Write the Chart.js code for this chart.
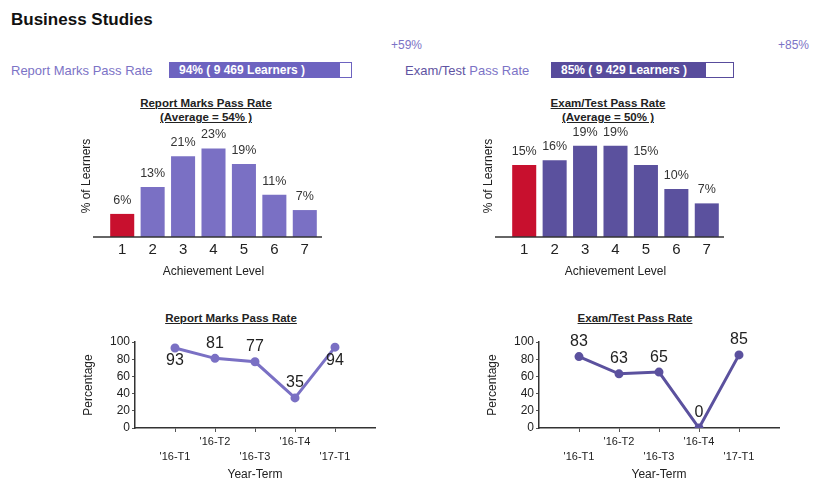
<!DOCTYPE html>
<html>
<head>
<meta charset="utf-8">
<script src="https://cdn.jsdelivr.net/npm/chart.js@4.4.1/dist/chart.umd.min.js"></script>
<style>
  body { margin: 0; background: #fff; font-family: Arial, "Liberation Sans", sans-serif; }
  #page { position: relative; width: 822px; height: 482px; overflow: hidden; }
  .t { position: absolute; white-space: nowrap; line-height: 1; }
  .ctitle { position: absolute; font-weight: bold; font-size: 11.5px; color: #222; text-decoration: underline; text-align: center; line-height: 14px; transform: translateX(-50%); white-space: nowrap; }
  .pbar { position: absolute; height: 14px; background: #fff; }
  .pbar .fill { position: absolute; left: 0; top: 0; bottom: 0; }
  .pbar span { position: absolute; left: 9px; top: 1px; color: #fff; font-weight: bold; font-size: 12px; line-height: 13px; white-space: nowrap; }
  canvas { position: absolute; }
</style>
</head>
<body>
<div id="page">
  <div class="t" style="left:11px;top:11px;font-size:17px;font-weight:bold;color:#111;">Business Studies</div>
  <div class="t" style="left:391px;top:39px;font-size:12px;color:#7c73c6;">+59%</div>
  <div class="t" style="left:778px;top:39px;font-size:12px;color:#7c73c6;">+85%</div>

  <div class="t" style="left:11px;top:63.5px;font-size:13px;color:#7c73c6;">Report Marks Pass Rate</div>
  <div class="pbar" id="pb1" style="left:169px;top:62px;width:181px;border:1px solid #6d63c0;"><div class="fill" style="background:#6d63c0;"></div><span></span></div>

  <div class="t" style="left:405px;top:63.5px;font-size:13px;"><span style="color:#5f54a2;">Exam/Test</span> <span style="color:#7c73c6;">Pass Rate</span></div>
  <div class="pbar" id="pb2" style="left:551px;top:62px;width:181px;border:1px solid #584c9c;"><div class="fill" style="background:#584c9c;"></div><span></span></div>

  <div class="ctitle" style="left:206px;top:96px;">Report Marks Pass Rate<br>(Average = 54% )</div>
  <div class="ctitle" style="left:608px;top:96px;">Exam/Test Pass Rate<br>(Average = 50% )</div>
  <div class="ctitle" style="left:231px;top:311px;">Report Marks Pass Rate</div>
  <div class="ctitle" style="left:635px;top:311px;">Exam/Test Pass Rate</div>

  <canvas id="bar1" width="260" height="170" style="left:70px;top:115px;"></canvas>
  <canvas id="bar2" width="260" height="170" style="left:472px;top:115px;"></canvas>
  <canvas id="line1" width="310" height="155" style="left:75px;top:330px;"></canvas>
  <canvas id="line2" width="310" height="155" style="left:479px;top:330px;"></canvas>
</div>

<script>
// header figures
const reportRate = 94;
const reportLearners = "9 469";
const examRate = 85;
const examLearners = "9 429";

// achievement level distributions (% of learners)
const levels = ["1", "2", "3", "4", "5", "6", "7"];
const reportLevels = [6, 13, 21, 23, 19, 11, 7];
const examLevels = [15, 16, 19, 19, 15, 10, 7];

// pass rate per year-term
const terms = ["'16-T1", "'16-T2", "'16-T3", "'16-T4", "'17-T1"];
const reportPass = [93, 81, 77, 35, 94];
const examPass = [83, 63, 65, 0, 85];

const LIGHT = "#7a70c4";
const DARK = "#5b519e";
const RED = "#c8102e";

Chart.defaults.font.family = 'Arial, "Liberation Sans", sans-serif';
Chart.defaults.color = "#222";

function fillBar(id, rate, learners) {
    const el = document.getElementById(id);
    el.querySelector(".fill").style.width = rate + "%";
    el.querySelector("span").textContent = rate + "% ( " + learners + " Learners )";
}
fillBar("pb1", reportRate, reportLearners);
fillBar("pb2", examRate, examLearners);

const barLabels = {
    id: "barLabels",
    afterDatasetsDraw(chart) {
        const ctx = chart.ctx;
        const ds = chart.data.datasets[0];
        ctx.save();
        ctx.font = "12.5px Arial, 'Liberation Sans', sans-serif";
        ctx.fillStyle = "#333";
        ctx.textAlign = "center";
        ctx.textBaseline = "middle";
        chart.getDatasetMeta(0).data.forEach((bar, i) => {
            ctx.fillText(ds.data[i] + "%", bar.x, bar.y - 13.5);
        });
        ctx.restore();
    },
};

const baseLine = {
    id: "baseLine",
    afterDatasetsDraw(chart) {
        const { ctx, chartArea } = chart;
        ctx.save();
        ctx.strokeStyle = "#333";
        ctx.lineWidth = 1.5;
        ctx.beginPath();
        ctx.moveTo(chartArea.left - 14, chartArea.bottom);
        ctx.lineTo(chartArea.right + 2, chartArea.bottom);
        ctx.stroke();
        ctx.restore();
    },
};

const pointLabels = {
    id: "pointLabels",
    afterDatasetsDraw(chart, args, opts) {
        const ctx = chart.ctx;
        const ds = chart.data.datasets[0];
        ctx.save();
        ctx.font = "16px Arial, 'Liberation Sans', sans-serif";
        ctx.fillStyle = "#222";
        ctx.textAlign = "center";
        ctx.textBaseline = "middle";
        chart.getDatasetMeta(0).data.forEach((pt, i) => {
            const below = opts.below && opts.below[i];
            ctx.fillText(ds.data[i].y, pt.x, below ? pt.y + 13 : pt.y - 15);
        });
        ctx.restore();
    },
};

function makeBar(id, values, color, max) {
    return new Chart(document.getElementById(id), {
        type: "bar",
        data: {
            labels: levels,
            datasets: [{
                data: values,
                backgroundColor: values.map((v, i) => (i === 0 ? RED : color)),
                categoryPercentage: 1,
                barPercentage: 0.79,
            }],
        },
        options: {
            responsive: false,
            animation: false,
            layout: { padding: { right: 10 } },
            plugins: { legend: { display: false }, tooltip: { enabled: false } },
            scales: {
                x: {
                    grid: { display: false, drawTicks: false },
                    border: { display: false },
                    ticks: { font: { size: 15 }, color: "#222", padding: 4 },
                    title: { display: true, text: "Achievement Level", font: { size: 12 }, color: "#222", padding: { top: 0, bottom: 6 } },
                    afterFit(scale) { scale.height = 48; },
                },
                y: {
                    min: 0,
                    max: max,
                    grid: { display: false, drawTicks: false },
                    border: { display: false },
                    ticks: { display: false },
                    title: { display: true, text: "% of Learners", font: { size: 12 }, color: "#222", padding: { top: 9, bottom: 0 } },
                    afterFit(scale) { scale.width = 37; },
                },
            },
        },
        plugins: [barLabels, baseLine],
    });
}

function makeLine(id, values, color, below) {
    return new Chart(document.getElementById(id), {
        type: "line",
        data: {
            datasets: [{
                data: terms.map((t, i) => ({ x: i + 1, y: values[i] })),
                borderColor: color,
                backgroundColor: color,
                borderWidth: 3,
                pointRadius: 3,
                pointBackgroundColor: color,
                tension: 0,
            }],
        },
        options: {
            responsive: false,
            animation: false,
            layout: { padding: { top: 12, right: 10 } },
            plugins: { legend: { display: false }, tooltip: { enabled: false }, pointLabels: { below } },
            scales: {
                x: {
                    type: "linear",
                    min: 0,
                    max: terms.length + 1,
                    afterBuildTicks(scale) { scale.ticks = terms.map((t, i) => ({ value: i + 1 })); },
                    grid: { drawOnChartArea: false, tickLength: 4, color: "#555" },
                    border: { color: "#333", width: 1.5 },
                    ticks: {
                        autoSkip: false,
                        maxRotation: 0,
                        padding: 2,
                        font: { size: 11, lineHeight: 1.364 },
                        color: "#222",
                        callback: (v) => (v % 2 ? ["", terms[v - 1]] : [terms[v - 1]]),
                    },
                    title: { display: true, text: "Year-Term", font: { size: 12 }, color: "#222", padding: { top: 0, bottom: 3 } },
                    afterFit(scale) { scale.height = 57; },
                },
                y: {
                    min: 0,
                    max: 100,
                    grid: { drawOnChartArea: false, tickLength: 3, color: "#555" },
                    border: { color: "#333", width: 1.5 },
                    ticks: { stepSize: 20, autoSkip: false, font: { size: 12 }, color: "#222", padding: 2 },
                    title: { display: true, text: "Percentage", font: { size: 12 }, color: "#222", padding: { top: 6, bottom: 0 } },
                    afterFit(scale) { scale.width = 60; },
                },
            },
        },
        plugins: [pointLabels],
    });
}

makeBar("bar1", reportLevels, LIGHT, 31.7);
makeBar("bar2", examLevels, DARK, 25.4);
makeLine("line1", reportPass, LIGHT, [true, false, false, false, true]);
makeLine("line2", examPass, DARK, [false, false, false, false, false]);
</script>
</body>
</html>
